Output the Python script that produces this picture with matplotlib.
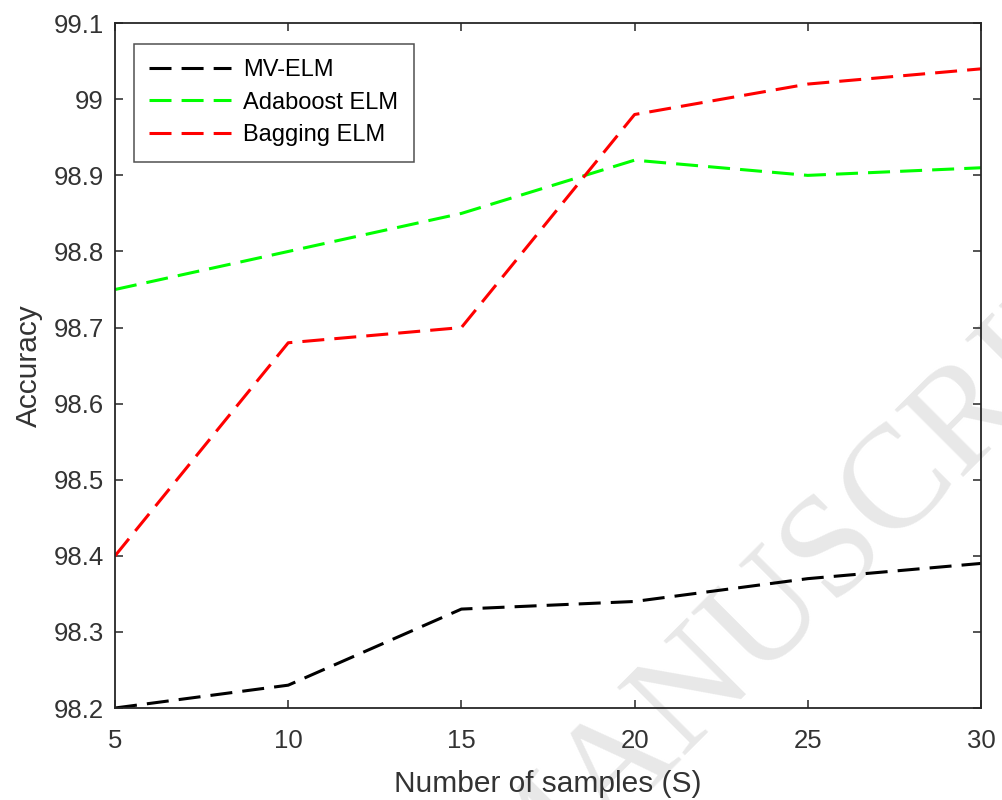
import matplotlib
matplotlib.use("Agg")
import matplotlib.pyplot as plt
from matplotlib.ticker import FuncFormatter

# ---- data ----
samples = [5, 10, 15, 20, 25, 30]
mv_elm = [98.20, 98.23, 98.33, 98.34, 98.37, 98.39]
adaboost_elm = [98.75, 98.80, 98.85, 98.92, 98.90, 98.91]
bagging_elm = [98.40, 98.68, 98.70, 98.98, 99.02, 99.04]
series_names = ["MV-ELM", "Adaboost ELM", "Bagging ELM"]
x_ticks = [5, 10, 15, 20, 25, 30]
y_ticks = [98.2, 98.3, 98.4, 98.5, 98.6, 98.7, 98.8, 98.9, 99.0, 99.1]

plt.rcParams['font.family'] = ['Liberation Sans', 'DejaVu Sans']

fig = plt.figure(figsize=(10.03, 8.0), dpi=100)
ax = fig.add_axes([0.1147, 0.115, 0.978 - 0.1147, 0.971 - 0.115])
ax.patch.set_alpha(0)

# watermark (behind the axes content)
wm_color = (0.91, 0.91, 0.91)
anchor = (0.513, -0.1525)
fig.text(anchor[0], anchor[1], "MANUSCRIPT", rotation=45, rotation_mode='anchor',
         ha='left', va='baseline', fontsize=106, color=wm_color,
         family='Liberation Serif', zorder=-5)
fig.text(anchor[0], anchor[1], "ACCEPTED ", rotation=45, rotation_mode='anchor',
         ha='right', va='baseline', fontsize=106, color=wm_color,
         family='Liberation Serif', zorder=-5)

lw = 2.2
dash = (7.2, 3.3)
ax.plot(samples, mv_elm, color='black', lw=lw, dashes=dash, label=series_names[0])
ax.plot(samples, adaboost_elm, color=(0, 1, 0), lw=lw, dashes=dash, label=series_names[1])
ax.plot(samples, bagging_elm, color=(1, 0, 0), lw=lw, dashes=dash, label=series_names[2])

ax.set_xlim(5, 30)
ax.set_ylim(98.2, 99.1)
ax.set_xticks(x_ticks)
ax.set_yticks(y_ticks)
ax.yaxis.set_major_formatter(FuncFormatter(lambda v, p: f"{v:.1f}".rstrip('0').rstrip('.')))

axc = '#262626'
txc = '#333333'
for s in ax.spines.values():
    s.set_color(axc)
    s.set_linewidth(1.3)
ax.tick_params(direction='in', length=6, width=1.1, colors=axc, labelsize=18.5,
               top=True, right=True, labelcolor=txc)
ax.tick_params(axis='x', pad=15)
ax.tick_params(axis='y', pad=8)

ax.set_xlabel("Number of samples (S)", fontsize=21.5, color=txc, labelpad=12)
ax.set_ylabel("Accuracy", fontsize=21.5, color=txc, labelpad=8)

leg = ax.legend(loc='upper left', bbox_to_anchor=(0.022, 0.97), fontsize=17,
                frameon=True, fancybox=False, edgecolor=axc, handlelength=3.47,
                handletextpad=0.5, borderpad=0.65, labelspacing=0.45,
                borderaxespad=0)
leg.get_frame().set_linewidth(1.1)
for t in leg.get_texts():
    t.set_color('black')

fig.savefig("out.png", dpi=100)
